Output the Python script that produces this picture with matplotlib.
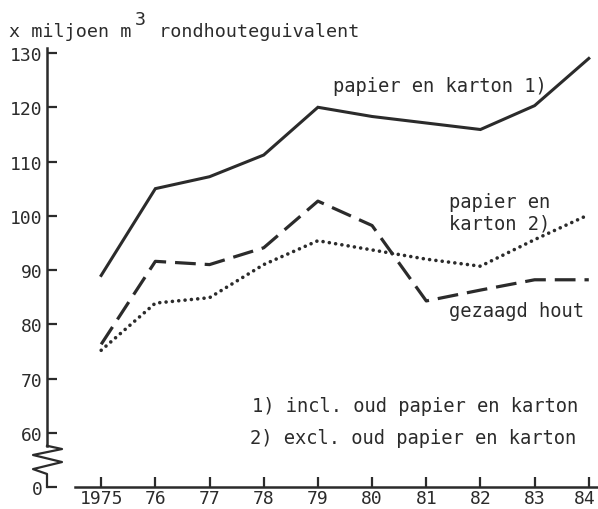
import matplotlib
matplotlib.use("Agg")
import matplotlib.pyplot as plt
from matplotlib.transforms import blended_transform_factory, ScaledTranslation

# ---- data ----
years = [1975, 1976, 1977, 1978, 1979, 1980, 1981, 1982, 1983, 1984]
year_labels = ["1975", "76", "77", "78", "79", "80", "81", "82", "83", "84"]
papier_incl = [89, 105, 107.2, 111.2, 120, 118.3, 117.1, 115.9, 120.3, 129]
gezaagd_hout = [76.3, 91.6, 91, 94.1, 102.7, 98.2, 84.3, 86.3, 88.2, 88.2]
papier_excl = [75.2, 83.9, 84.9, 91, 95.4, 93.7, 92, 90.7, 95.6, 100.2]
ytick_values = [50, 60, 70, 80, 90, 100, 110, 120, 130]
ytick_labels = ["0", "60", "70", "80", "90", "100", "110", "120", "130"]

W, H = 598, 510
C = "#2b2b2b"
FONT = "DejaVu Sans Mono"
plt.rcParams["font.family"] = FONT

fig = plt.figure(figsize=(W / 100, H / 100), dpi=100)
ax = fig.add_axes([47 / W, 22 / H, 1 - 47 / W, (488 - 48.6) / H])

ax.plot(years, papier_incl, color=C, lw=2.2, solid_joinstyle="miter")
ax.plot(years, gezaagd_hout, color=C, lw=2.3, linestyle=(0, (6.5, 2.8)))
ax.plot(years, papier_excl, color=C, lw=2.6, linestyle=(0, (0.01, 1.75)),
        dash_capstyle="round")

ax.set_xlim(1974.0, 1984.17)
ax.set_ylim(50, 131)

ax.set_xticks(years)
ax.set_xticklabels(year_labels)
ax.set_yticks(ytick_values)
ax.set_yticklabels(ytick_labels)
ax.tick_params(direction="in", length=7, width=1.6, color=C,
               labelsize=13, labelcolor=C)
ax.tick_params(axis="x", pad=1.5)
ax.tick_params(axis="y", pad=3)

# keep the last year label inside the picture
last = ax.get_xticklabels()[-1]
last.set_transform(last.get_transform() + ScaledTranslation(-4 / 100, 0, fig.dpi_scale_trans))

for s in ["top", "right"]:
    ax.spines[s].set_visible(False)
ax.spines["bottom"].set_bounds(1974.52, 1984.17)
ax.spines["left"].set_bounds(57.6, 131)
for s in ["bottom", "left"]:
    ax.spines[s].set_linewidth(1.8)
    ax.spines[s].set_color(C)

# axis break zigzag
tr = blended_transform_factory(ax.transAxes, ax.transData)
aw = 1 - 47 / W
px = lambda p: p / W / aw
zx = [0, px(15), px(-14), px(15), px(-14), 0, 0]
zy = [57.6, 57.0, 55.9, 54.6, 53.3, 52.4, 50]
ax.plot(zx, zy, color=C, lw=1.6, transform=tr, clip_on=False)

def ftext(x, y, s, size=13.5):
    fig.text(x / W, 1 - y / H, s, fontsize=size, color=C, va="baseline",
             ha="left", family=FONT)

ftext(9, 37, "x miljoen m", 13.2)
ftext(135, 25, "3", 13.2)
ftext(148, 37, " rondhouteguivalent", 13.2)
ftext(333, 92, "papier en karton 1)")
ftext(449, 208, "papier en")
ftext(449, 230, "karton 2)")
ftext(449, 317, "gezaagd hout")
ftext(252, 412, "1) incl. oud papier en karton")
ftext(250, 444, "2) excl. oud papier en karton")

fig.savefig("out.png", dpi=100, facecolor="white")
